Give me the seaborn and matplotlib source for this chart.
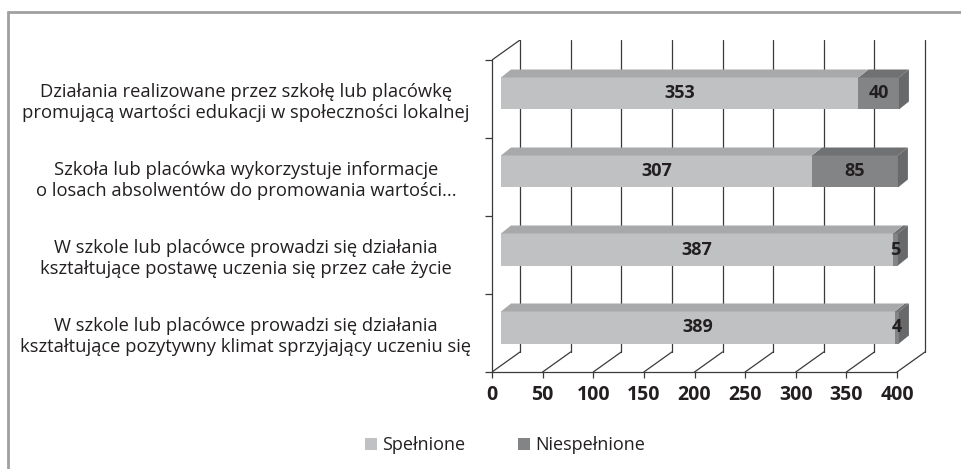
import numpy as np
import pandas as pd
import seaborn as sns
import matplotlib as mpl
from matplotlib import pyplot as plt
from matplotlib.patches import Polygon, Patch
from matplotlib.lines import Line2D

categories = [
    "Działania realizowane przez szkołę lub placówkę\npromującą wartości edukacji w społeczności lokalnej",
    "Szkoła lub placówka wykorzystuje informacje\no losach absolwentów do promowania wartości...",
    "W szkole lub placówce prowadzi się działania\nkształtujące postawę uczenia się przez całe życie",
    "W szkole lub placówce prowadzi się działania\nkształtujące pozytywny klimat sprzyjający uczeniu się",
]
spelnione = [353, 307, 387, 389]
niespelnione = [40, 85, 5, 4]
series_names = ["Spełnione", "Niespełnione"]
x_ticks = [0, 50, 100, 150, 200, 250, 300, 350, 400]

sns.set_style("white")
plt.rcParams['font.family'] = ['Open Sans', 'DejaVu Sans']
TXT = '#231f20'

light_front, light_top = '#c0c1c3', '#a7a9ab'
dark_front, dark_top, dark_side = '#838486', '#707173', '#68696b'

W, H = 961, 469
fig = plt.figure(figsize=(W / 100, H / 100), dpi=100)

# front plane of the 3d box, in pixels
fx0, fx1, fy_top, fy_bot = 492, 897, 60, 372
deep_x, deep_y = 28, 20          # depth of the box
PX_X = 400 / (fx1 - fx0)          # data units per pixel
PX_Y = 4 / (fy_bot - fy_top)

ax = fig.add_axes([fx0 / W, (H - fy_bot) / H,
                   (fx1 + deep_x + 2 - fx0) / W, (fy_bot - fy_top + deep_y) / H])

df = pd.DataFrame({"cat": categories, "spel": spelnione, "nies": niespelnione})
df["total"] = df["spel"] + df["nies"]

bar_h = 32 * PX_Y
sns.barplot(data=df, y="cat", x="total", order=categories, orient="h",
            color=dark_front, saturation=1, width=bar_h, ax=ax, zorder=3)
sns.barplot(data=df, y="cat", x="spel", order=categories, orient="h",
            color=light_front, saturation=1, width=bar_h, ax=ax, zorder=4)

ax.set_xlim(0, 400 + (deep_x + 2) * PX_X)
ax.set_ylim(3.5, -0.5 - deep_y * PX_Y)

# back wall + floor
for t in x_ticks:
    bx = t + deep_x * PX_X
    ax.plot([bx, bx], [3.5 - deep_y * PX_Y, -0.5 - deep_y * PX_Y], color='#3a3a3a', lw=0.9, zorder=1)
    ax.plot([t, bx], [3.5, 3.5 - deep_y * PX_Y], color='#3a3a3a', lw=0.9, zorder=1)
ax.plot([0, deep_x * PX_X], [-0.5, -0.5 - deep_y * PX_Y], color='#3a3a3a', lw=0.9, zorder=1)

# shift bars into the box and add top / side faces
ox, oy = 9 * PX_X, -5.5 * PX_Y
dx, dy = 10 * PX_X, -8 * PX_Y
for p in ax.patches:
    p.set_x(p.get_x() + ox)
    p.set_y(p.get_y() + oy)
    p.set_edgecolor('none')

for i in range(len(categories)):
    y_top = i - bar_h / 2 + oy
    y_bot = i + bar_h / 2 + oy
    s, n = spelnione[i], niespelnione[i]
    x0, xs, xe = ox, ox + s, ox + s + n
    for a, b, col, z in [(x0, xs, light_top, 4), (xs, xe, dark_top, 3)]:
        ax.add_patch(Polygon([(a, y_top), (b, y_top), (b + dx, y_top + dy), (a + dx, y_top + dy)],
                             closed=True, fc=col, ec='none', zorder=z))
    ax.add_patch(Polygon([(xe, y_top), (xe + dx, y_top + dy), (xe + dx, y_bot + dy), (xe, y_bot)],
                         closed=True, fc=dark_side, ec='none', zorder=3))
    ax.text(x0 + s / 2, i + oy, str(s), ha='center', va='center', fontsize=13,
            fontweight='bold', color=TXT, zorder=6)
    ax.text(xs + n / 2, i + oy, str(n), ha='center', va='center', fontsize=13,
            fontweight='bold', color=TXT, zorder=6)

# axes styling
for side in ['top', 'right']:
    ax.spines[side].set_visible(False)
ax.spines['left'].set_bounds(-0.5, 3.5)
ax.spines['bottom'].set_bounds(0, 400)
for side in ['left', 'bottom']:
    ax.spines[side].set_color('#3a3a3a')
    ax.spines[side].set_linewidth(0.9)

ax.set_xticks(x_ticks)
ax.set_xticklabels([str(t) for t in x_ticks], fontsize=14, fontweight='bold', color=TXT)
ax.tick_params(axis='x', length=4, width=0.9, color='#3a3a3a', pad=5, bottom=True)

ax.set_yticks(range(len(categories)))
ax.set_yticklabels(categories, fontsize=13.2, color=TXT, linespacing=1.22)
ax.set_yticks(np.arange(-0.5, 4, 1), minor=True)
ax.tick_params(axis='y', which='major', length=0, pad=(fx0 - 246) * 0.72)
ax.tick_params(axis='y', which='minor', length=5, width=0.9, color='#3a3a3a', left=True)
for lab in ax.get_yticklabels():
    lab.set_ha('center')
    lab.set_multialignment('center')
ax.set_xlabel('')
ax.set_ylabel('')

# legend
handles = [Patch(fc=light_front, ec='none'), Patch(fc=dark_front, ec='none')]
fig.legend(handles, series_names, loc='center', bbox_to_anchor=(505 / W, 1 - 445 / H),
           ncol=2, frameon=False, fontsize=13, handlelength=0.65, handleheight=0.65,
           handletextpad=0.3, columnspacing=2.9, labelcolor=TXT)

# outer frame (top and left)
fig.add_artist(Line2D([8 / W, 1], [1 - 12 / H, 1 - 12 / H], color='#a0a0a0', lw=2))
fig.add_artist(Line2D([8 / W, 8 / W], [0, 1 - 12 / H], color='#a0a0a0', lw=2))

fig.savefig('out.png', dpi=100)
